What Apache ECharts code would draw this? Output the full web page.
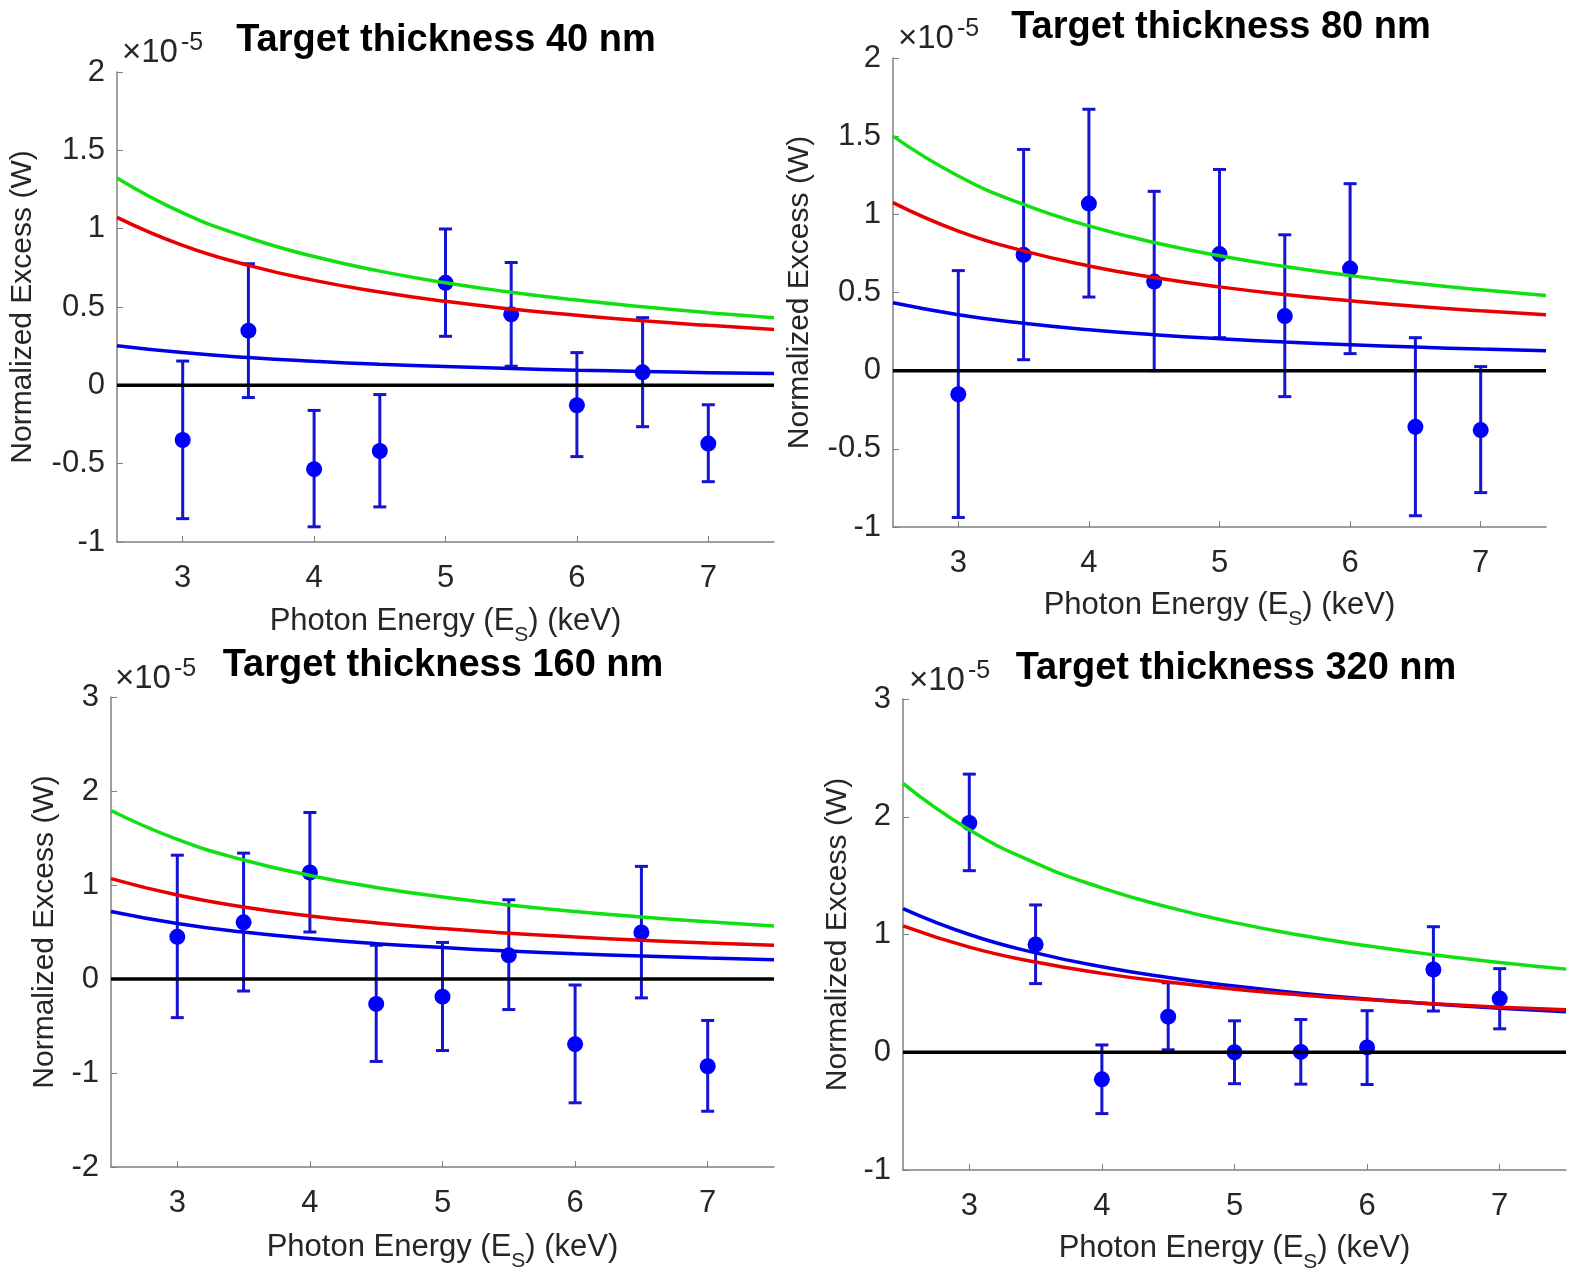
<!DOCTYPE html>
<html>
<head>
<meta charset="utf-8">
<script src="https://cdn.jsdelivr.net/npm/echarts@6/dist/echarts.min.js"></script>
<style>
html,body{margin:0;padding:0;background:#fff;}
#chart{width:1569px;height:1275px;}
</style>
</head>
<body>
<div id="chart"></div>
<script>
// ---- data (values in units of 1e-5) ----
const energies = [3, 3.5, 4, 4.5, 5, 5.5, 6, 6.5, 7];
const curveE = [2.5, 3, 3.5, 4, 4.5, 5, 5.5, 6, 6.5, 7, 7.5];
const xTicks = [3, 4, 5, 6, 7];

// 40 nm
const w40 = [-0.349, 0.349, -0.535, -0.419, 0.654, 0.453, -0.127, 0.083, -0.372];
const w40Low = [-0.851, -0.078, -0.903, -0.776, 0.313, 0.122, -0.455, -0.264, -0.615];
const w40High = [0.155, 0.776, -0.160, -0.059, 0.998, 0.784, 0.209, 0.432, -0.124];
const green40 = [1.324, 1.101, 0.942, 0.822, 0.729, 0.655, 0.594, 0.544, 0.501, 0.464, 0.432];
const red40 = [1.072, 0.893, 0.766, 0.670, 0.596, 0.536, 0.487, 0.447, 0.412, 0.383, 0.357];
const blue40 = [0.253, 0.209, 0.177, 0.153, 0.134, 0.120, 0.107, 0.097, 0.089, 0.081, 0.075];

// 80 nm
const w80 = [-0.151, 0.741, 1.069, 0.570, 0.746, 0.349, 0.653, -0.359, -0.380];
const w80Low = [-0.939, 0.070, 0.471, 0.000, 0.211, -0.166, 0.109, -0.928, -0.780];
const w80High = [0.640, 1.415, 1.672, 1.147, 1.287, 0.869, 1.196, 0.211, 0.026];
const green80 = [1.500, 1.245, 1.063, 0.926, 0.820, 0.735, 0.666, 0.608, 0.559, 0.517, 0.481];
const red80 = [1.075, 0.893, 0.766, 0.670, 0.596, 0.536, 0.487, 0.447, 0.412, 0.383, 0.358];
const blue80 = [0.434, 0.358, 0.303, 0.262, 0.230, 0.204, 0.183, 0.166, 0.151, 0.138, 0.127];

// 160 nm
const w160 = [0.449, 0.603, 1.133, -0.265, -0.188, 0.252, -0.693, 0.496, -0.928];
const w160Low = [-0.411, -0.128, 0.500, -0.877, -0.761, -0.325, -1.317, -0.201, -1.407];
const w160High = [1.317, 1.339, 1.771, 0.359, 0.389, 0.843, -0.064, 1.198, -0.441];
const green160 = [1.792, 1.485, 1.266, 1.102, 0.974, 0.872, 0.788, 0.719, 0.660, 0.609, 0.565];
const red160 = [1.068, 0.893, 0.766, 0.670, 0.596, 0.536, 0.487, 0.447, 0.412, 0.383, 0.358];
const blue160 = [0.719, 0.591, 0.499, 0.430, 0.376, 0.334, 0.298, 0.269, 0.245, 0.223, 0.205];

// 320 nm
const w320 = [1.947, 0.915, -0.230, 0.302, 0.000, 0.003, 0.041, 0.703, 0.456];
const w320Low = [1.542, 0.583, -0.521, 0.021, -0.267, -0.271, -0.274, 0.350, 0.199];
const w320High = [2.362, 1.251, 0.062, 0.590, 0.267, 0.278, 0.353, 1.066, 0.710];
const green320 = [2.283, 1.889, 1.607, 1.396, 1.232, 1.101, 0.993, 0.904, 0.828, 0.763, 0.706];
const red320 = [1.073, 0.893, 0.766, 0.670, 0.596, 0.536, 0.487, 0.447, 0.412, 0.383, 0.360];
const blue320 = [1.220, 1.000, 0.844, 0.726, 0.635, 0.562, 0.502, 0.452, 0.410, 0.374, 0.343];

const titles = ['Target thickness 40 nm', 'Target thickness 80 nm', 'Target thickness 160 nm', 'Target thickness 320 nm'];
const yLimits = [[-1, 2, 0.5], [-1, 2, 0.5], [-2, 3, 1], [-1, 3, 1]];
const zeroX = [2.5, 7.5];
const zeroY = [0, 0];

// ---- layout / style ----
const FONT = '"Liberation Sans", Arial, Helvetica, sans-serif';
const grids = [
  {left: 117, top: 72, width: 657, height: 470},
  {left: 893, top: 58, width: 653, height: 469},
  {left: 111, top: 697, width: 663, height: 470},
  {left: 903, top: 699, width: 663, height: 471}
];
const yNameGap = [79, 78, 51, 50];
const xNameGap = [54, 53, 55, 53];
const titlePos = [[446, 41], [1221, 28], [443, 666], [1236, 669]];
const expPos = [[122, 53], [898, 38.5], [115, 679], [909, 681]];

const panels = [
  {w: w40, lo: w40Low, hi: w40High, g: green40, r: red40, b: blue40},
  {w: w80, lo: w80Low, hi: w80High, g: green80, r: red80, b: blue80},
  {w: w160, lo: w160Low, hi: w160High, g: green160, r: red160, b: blue160},
  {w: w320, lo: w320Low, hi: w320High, g: green320, r: red320, b: blue320}
];

const GREEN = '#10e010', RED = '#e80000', BLUE = '#0000e8', DOT = '#0000ff', BAR = '#1414d2';
const TXT = '#262626';

function zip(a, b) { return a.map((v, i) => [v, b[i]]); }

const chart = echarts.init(document.getElementById('chart'), null, {renderer: 'canvas'});

const xAxes = [], yAxes = [], series = [], graphics = [];
panels.forEach((p, i) => {
  xAxes.push({
    gridIndex: i, type: 'value', min: 2.5, max: 7.5, interval: 0.5,
    name: '{a|Photon Energy (E}{s|S}{a|) (keV)}',
    nameLocation: 'middle', nameGap: xNameGap[i],
    nameTextStyle: {
      rich: {
        a: {fontFamily: FONT, fontSize: 31, color: TXT, lineHeight: 50, verticalAlign: 'middle'},
        s: {fontFamily: FONT, fontSize: 21, color: TXT, lineHeight: 10, verticalAlign: 'bottom'}
      }
    },
    axisLine: {show: true, onZero: false, lineStyle: {color: '#808080', width: 1.5}},
    axisTick: {show: true, inside: true, length: 6, customValues: xTicks, lineStyle: {color: '#808080', width: 1}},
    axisLabel: {customValues: xTicks, fontFamily: FONT, fontSize: 31, color: TXT, margin: 21},
    splitLine: {show: false}
  });
  yAxes.push({
    gridIndex: i, type: 'value', min: yLimits[i][0], max: yLimits[i][1], interval: yLimits[i][2],
    name: 'Normalized Excess (W)', nameLocation: 'middle', nameGap: yNameGap[i],
    nameTextStyle: {fontFamily: FONT, fontSize: 30, color: TXT},
    axisLine: {show: true, onZero: false, lineStyle: {color: '#808080', width: 1.5}},
    axisTick: {show: true, inside: true, length: 6, lineStyle: {color: '#808080', width: 1}},
    axisLabel: {fontFamily: FONT, fontSize: 31, color: TXT, margin: 12},
    splitLine: {show: false}
  });
  const common = {xAxisIndex: i, yAxisIndex: i, silent: true, animation: false};
  series.push(Object.assign({
    type: 'line', data: zip(zeroX, zeroY), symbol: 'none',
    lineStyle: {color: '#000', width: 3.5}
  }, common));
  series.push(Object.assign({
    type: 'line', data: zip(curveE, p.g), symbol: 'none', smooth: true,
    lineStyle: {color: GREEN, width: 3.5}
  }, common));
  series.push(Object.assign({
    type: 'line', data: zip(curveE, p.b), symbol: 'none', smooth: true,
    lineStyle: {color: BLUE, width: 3.5}
  }, common));
  series.push(Object.assign({
    type: 'line', data: zip(curveE, p.r), symbol: 'none', smooth: true,
    lineStyle: {color: RED, width: 3.5}
  }, common));
  series.push(Object.assign({
    type: 'custom',
    data: energies.map((e, k) => [e, p.lo[k], p.hi[k]]),
    encode: {x: 0, y: [1, 2]},
    renderItem: function (params, api) {
      const x = api.value(0);
      const top = api.coord([x, api.value(2)]);
      const bot = api.coord([x, api.value(1)]);
      const hw = 6.5;
      const st = {stroke: BAR, lineWidth: 3};
      return {
        type: 'group',
        children: [
          {type: 'line', shape: {x1: top[0], y1: top[1], x2: bot[0], y2: bot[1]}, style: st},
          {type: 'line', shape: {x1: top[0] - hw, y1: top[1], x2: top[0] + hw, y2: top[1]}, style: st},
          {type: 'line', shape: {x1: bot[0] - hw, y1: bot[1], x2: bot[0] + hw, y2: bot[1]}, style: st}
        ]
      };
    }
  }, common));
  series.push(Object.assign({
    type: 'scatter', data: zip(energies, p.w), symbol: 'circle', symbolSize: 16,
    itemStyle: {color: DOT, opacity: 1}
  }, common));

  graphics.push({
    type: 'text', x: titlePos[i][0], y: titlePos[i][1], silent: true,
    style: {text: titles[i], font: 'bold 38px ' + FONT, fill: '#000', align: 'center', verticalAlign: 'middle'}
  });
  graphics.push({
    type: 'text', x: expPos[i][0], y: expPos[i][1], silent: true,
    style: {
      text: '{a|\u00d710}{b|-5}', align: 'left', verticalAlign: 'middle',
      font: '33px ' + FONT, fill: TXT,
      rich: {
        a: {font: '33px ' + FONT, fontSize: 33, fill: TXT, lineHeight: 44, verticalAlign: 'middle'},
        b: {font: '25px ' + FONT, fontSize: 25, fill: TXT, lineHeight: 20, verticalAlign: 'top', padding: [0, 0, 0, 3]}
      }
    }
  });
});

chart.setOption({
  animation: false,
  backgroundColor: '#fff',
  grid: grids.map(g => Object.assign({containLabel: false}, g)),
  xAxis: xAxes,
  yAxis: yAxes,
  series: series,
  graphic: graphics
});
</script>
</body>
</html>
